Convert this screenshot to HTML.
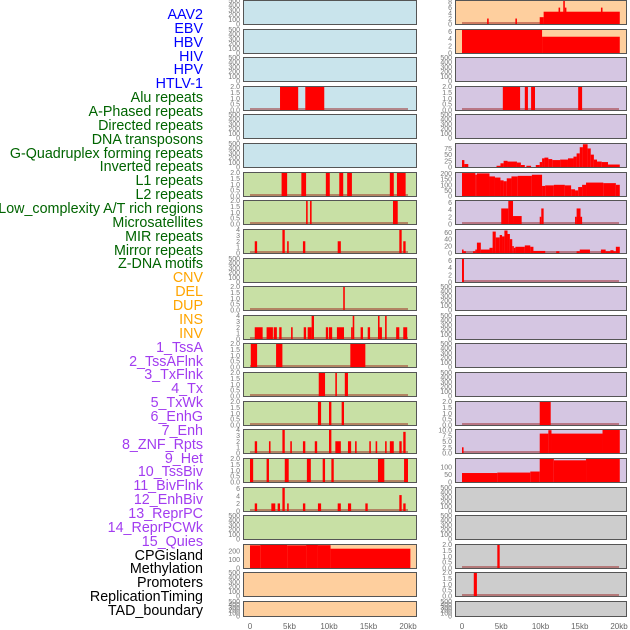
<!DOCTYPE html>
<html><head><meta charset="utf-8">
<style>
html,body{margin:0;padding:0;background:#fff;}
#root{position:relative;width:630px;height:630px;overflow:hidden;font-family:"Liberation Sans",sans-serif;}
.lbl{position:absolute;right:427px;font-size:14.3px;line-height:14px;white-space:nowrap;}
svg{position:absolute;left:0;top:0;}
</style></head>
<body>
<div id="root">
<svg id="chart" width="630" height="630"></svg>
</div>
<script>
// ---- labels ----
const labelNames = ["AAV2","EBV","HBV","HIV","HPV","HTLV-1","Alu repeats","A-Phased repeats","Directed repeats","DNA transposons","G-Quadruplex forming repeats","Inverted repeats","L1 repeats","L2 repeats","Low_complexity A/T rich regions","Microsatellites","MIR repeats","Mirror repeats","Z-DNA motifs","CNV","DEL","DUP","INS","INV","1_TssA","2_TssAFlnk","3_TxFlnk","4_Tx","5_TxWk","6_EnhG","7_Enh","8_ZNF_Rpts","9_Het","10_TssBiv","11_BivFlnk","12_EnhBiv","13_ReprPC","14_ReprPCWk","15_Quies","CPGisland","Methylation","Promoters","ReplicationTiming","TAD_boundary"];
const labelGroups = [6,13,5,15,5];
const groupColors = ["#0000ff","#006400","#ffa500","#a23cf0","#000000"];

// ---- x axis ----
const xTicks = [0,5,10,15,20];
const xTickLabels = ["0","5kb","10kb","15kb","20kb"];

// ---- tick sets ----
const t500 = [0,100,200,300,400,500];
const t2 = [0,0.5,1,1.5,2];
const t4 = [0,1,2,3,4];
const t6 = [0,2,4,6];
const t8 = [0,2,4,6,8];

// ---- left column data: [startKb, endKb, value] ----
const L_alu = [[3.8,6.1,2],[7.0,9.4,2]];
const L_l1 = [[4.0,4.7,2],[6.5,7.1,2],[9.6,10.1,2],[11.3,11.8,2],[12.3,12.9,2],[17.7,18.2,2],[18.6,19.7,2]];
const L_lowc = [[7.1,7.3,2],[7.6,7.8,2],[18.1,18.7,2]];
const L_mir = [[0.6,0.9,2],[4.1,4.4,4],[4.7,4.9,2],[6.7,7.0,2],[11.1,11.5,2],[18.9,19.2,4],[19.4,19.7,2]];
const L_del = [[11.8,12.0,2]];
const L_ins = [[0.6,1.6,2],[2.1,2.9,2],[3.0,3.4,2],[3.7,4.0,2],[5.2,5.4,2],[6.8,7.1,2],[7.3,7.8,2],[7.8,8.1,4],[9.6,9.9,2],[10.0,10.4,2],[11.0,11.9,2],[12.8,13.0,2],[13.0,13.2,4],[14.0,14.3,2],[14.9,15.2,2],[16.2,16.4,4],[16.4,16.7,2],[17.1,17.3,4],[18.5,18.9,2],[19.4,19.9,2]];
const L_tssa = [[0.1,0.9,2],[3.3,4.1,2],[12.7,14.6,2]];
const L_txflnk = [[8.7,9.5,2],[10.8,11.0,2],[12.0,12.4,2]];
const L_txwk = [[8.6,9.0,2],[10.0,10.3,2],[11.6,11.9,2]];
const L_enh = [[0.6,0.9,2],[2.4,2.6,2],[4.1,4.4,4],[5.1,5.3,2],[6.7,7.0,2],[8.2,8.5,2],[10.0,10.3,4],[10.8,11.5,2],[12.4,12.8,2],[13.3,13.5,2],[15.1,15.3,2],[15.9,16.1,2],[17.1,17.3,2],[17.7,18.2,2],[18.9,19.2,2],[19.4,19.7,3.6]];
const L_het = [[0.0,0.4,2],[2.1,2.4,2],[4.4,4.9,2],[7.2,7.7,2],[9.2,9.5,2],[10.3,10.6,2],[16.2,17.0,2],[19.5,20.0,2]];
const L_enhbiv = [[0.6,0.9,2],[2.7,3.2,2],[3.5,3.8,2],[4.1,4.4,6.2],[4.7,4.9,2],[6.7,7.0,2],[8.6,9.0,2],[11.1,11.5,2],[12.4,12.8,2],[14.6,14.9,2],[18.9,19.2,4.2],[19.4,19.7,2]];
const L_cpg = [[0,1.3,270],[1.3,4.7,280],[4.7,7.1,270],[7.1,8.6,280],[8.6,10.2,272],[10.2,20.3,230]];

// ---- right column data ----
const R_aav2 = [[3.2,3.4,2],[6.8,7.0,2],[9.9,10.4,2.5],[10.4,20.1,4.5],[12.3,12.5,6],[12.9,13.1,8.5],[13.1,13.3,6],[17.7,17.9,6]];
const R_ebv = [[0,10.2,6.5],[10.2,20.1,4.5]];
const R_alu = [[5.2,7.4,2],[8.0,8.4,2],[8.8,9.3,2],[14.8,15.3,2]];
const R_gquad = [[0,0.3,28],[0.3,0.8,12],[4.4,4.9,5],[4.9,5.3,15],[5.3,5.8,25],[5.8,7.0,22],[7.0,7.5,18],[7.5,8.0,8],[8.2,8.8,5],[9.4,9.9,8],[9.9,10.2,20],[10.2,10.5,35],[10.5,11.0,38],[11.0,11.5,32],[11.5,12.5,28],[12.5,13.5,30],[13.5,14.2,35],[14.2,14.6,42],[14.6,15.0,55],[15.0,15.4,80],[15.4,16.0,92],[16.0,16.4,75],[16.4,16.8,50],[16.8,17.2,30],[17.2,17.8,22],[17.8,18.6,20],[18.6,20.1,10]];
const R_l1 = [[0,1.7,205],[1.7,1.9,190],[1.9,3.5,202],[3.5,4.2,175],[4.2,4.9,165],[4.9,5.3,140],[5.3,5.7,132],[5.7,6.3,158],[6.3,7.1,175],[7.1,8.9,180],[8.9,10.2,190],[10.2,10.6,90],[10.6,11.7,95],[11.7,13.1,100],[13.1,13.9,95],[13.9,14.4,60],[14.4,14.8,50],[14.8,15.3,80],[15.3,15.8,100],[15.8,18.0,120],[18.0,19.6,115],[19.6,20.1,100]];
const R_lowc = [[5.0,5.9,4.3],[5.9,6.5,6.5],[6.5,7.6,2.2],[9.9,10.1,2],[10.1,10.4,4.3],[14.4,14.6,2],[14.6,15.1,4.3],[15.1,15.3,2]];
const R_mir = [[0,0.2,10],[0.2,0.5,5],[1.4,1.7,5],[1.7,1.9,10],[1.9,2.4,30],[2.4,3.5,10],[3.5,3.9,15],[3.9,4.3,62],[4.3,4.8,45],[4.8,5.1,52],[5.1,5.4,48],[5.4,5.8,65],[5.8,6.1,55],[6.1,6.4,40],[6.4,6.6,20],[6.6,6.8,15],[6.8,8.0,18],[8.0,8.7,22],[8.7,9.1,18],[9.1,10.6,6],[12.0,12.4,5],[14.6,15.0,5],[15.0,16.3,10],[17.7,18.3,10],[18.3,18.9,5],[18.9,19.3,8],[19.3,19.6,5],[19.6,20.1,18]];
const R_zdna = [[0,0.25,6.5]];
const R_txwk = [[9.9,11.3,2]];
const R_enh = [[0,0.2,2.5],[9.9,11.0,8.5],[11.0,11.4,10],[11.4,17.9,8.5],[17.9,20.1,10.3]];
const R_het = [[0,4.5,60],[4.5,8.7,63],[8.7,9.9,70],[9.9,11.7,157],[11.7,15.8,145],[15.8,20.1,155]];
const R_cpg = [[4.5,4.8,2]];
const R_meth = [[1.5,1.9,2]];

// ---- panel layout ----
const BLUE="#c9e4ec", GREEN="#c8e0a5", ORANGE="#fecf9e", PURPLE="#d5c6e2", GREY="#cdcdcd";
const panels = [
 {c:0,r:0,bg:BLUE,ymax:500,ticks:t500,d:null,n:"aav2-ebv"},
 {c:0,r:1,bg:BLUE,ymax:500,ticks:t500,d:null,n:"hbv-hiv"},
 {c:0,r:2,bg:BLUE,ymax:500,ticks:t500,d:null,n:"hpv-htlv1"},
 {c:0,r:3,bg:BLUE,ymax:2,ticks:t2,d:L_alu,n:"alu"},
 {c:0,r:4,bg:BLUE,ymax:500,ticks:t500,d:null,n:"directed"},
 {c:0,r:5,bg:BLUE,ymax:500,ticks:t500,d:null,n:"gquad"},
 {c:0,r:6,bg:GREEN,ymax:2,ticks:t2,d:L_l1,n:"l1"},
 {c:0,r:7,bg:GREEN,ymax:2,ticks:t2,d:L_lowc,n:"low-complexity"},
 {c:0,r:8,bg:GREEN,ymax:4,ticks:t4,d:L_mir,n:"mir"},
 {c:0,r:9,bg:GREEN,ymax:500,ticks:t500,d:null,n:"zdna"},
 {c:0,r:10,bg:GREEN,ymax:2,ticks:t2,d:L_del,n:"del"},
 {c:0,r:11,bg:GREEN,ymax:4,ticks:t4,d:L_ins,n:"ins"},
 {c:0,r:12,bg:GREEN,ymax:2,ticks:t2,d:L_tssa,n:"tssa"},
 {c:0,r:13,bg:GREEN,ymax:2,ticks:t2,d:L_txflnk,n:"txflnk"},
 {c:0,r:14,bg:GREEN,ymax:2,ticks:t2,d:L_txwk,n:"txwk"},
 {c:0,r:15,bg:GREEN,ymax:4,ticks:t4,d:L_enh,n:"enh"},
 {c:0,r:16,bg:GREEN,ymax:2,ticks:t2,d:L_het,n:"het"},
 {c:0,r:17,bg:GREEN,ymax:6.2,ticks:t6,d:L_enhbiv,n:"enhbiv"},
 {c:0,r:18,bg:GREEN,ymax:500,ticks:t500,d:null,n:"reprpc"},
 {c:0,r:19,bg:ORANGE,ymax:280,ticks:[0,100,200],d:L_cpg,n:"cpg",nobase:true},
 {c:0,r:20,bg:ORANGE,ymax:500,ticks:t500,d:null,n:"promoters"},
 {c:0,r:21,bg:ORANGE,ymax:500,ticks:t500,d:null,n:"tad"},
 {c:1,r:0,bg:ORANGE,ymax:8.6,ticks:t8,d:R_aav2,n:"aav2-ebv"},
 {c:1,r:1,bg:ORANGE,ymax:6.5,ticks:t6,d:R_ebv,n:"hbv-hiv",nobase:true},
 {c:1,r:2,bg:PURPLE,ymax:500,ticks:t500,d:null,n:"hpv-htlv1"},
 {c:1,r:3,bg:PURPLE,ymax:2,ticks:t2,d:R_alu,n:"alu"},
 {c:1,r:4,bg:PURPLE,ymax:500,ticks:t500,d:null,n:"directed"},
 {c:1,r:5,bg:PURPLE,ymax:95,ticks:[0,25,50,75],d:R_gquad,n:"gquad",nobase:true},
 {c:1,r:6,bg:PURPLE,ymax:210,ticks:[0,50,100,150,200],d:R_l1,n:"l1",nobase:true},
 {c:1,r:7,bg:PURPLE,ymax:6.5,ticks:t6,d:R_lowc,n:"low-complexity"},
 {c:1,r:8,bg:PURPLE,ymax:68,ticks:[0,20,40,60],d:R_mir,n:"mir"},
 {c:1,r:9,bg:PURPLE,ymax:6.5,ticks:t6,d:R_zdna,n:"zdna"},
 {c:1,r:10,bg:PURPLE,ymax:500,ticks:t500,d:null,n:"del"},
 {c:1,r:11,bg:PURPLE,ymax:500,ticks:t500,d:null,n:"ins"},
 {c:1,r:12,bg:PURPLE,ymax:500,ticks:t500,d:null,n:"tssa"},
 {c:1,r:13,bg:PURPLE,ymax:500,ticks:t500,d:null,n:"txflnk"},
 {c:1,r:14,bg:PURPLE,ymax:2,ticks:t2,d:R_txwk,n:"txwk"},
 {c:1,r:15,bg:PURPLE,ymax:10.3,ticks:[0,2.5,5,7.5,10],d:R_enh,n:"enh"},
 {c:1,r:16,bg:PURPLE,ymax:157,ticks:[0,50,100],d:R_het,n:"het",nobase:true},
 {c:1,r:17,bg:GREY,ymax:500,ticks:t500,d:null,n:"enhbiv"},
 {c:1,r:18,bg:GREY,ymax:500,ticks:t500,d:null,n:"reprpc"},
 {c:1,r:19,bg:GREY,ymax:2,ticks:t2,d:R_cpg,n:"cpg"},
 {c:1,r:20,bg:GREY,ymax:2,ticks:t2,d:R_meth,n:"promoters"},
 {c:1,r:21,bg:GREY,ymax:500,ticks:t500,d:null,n:"tad"}
];

const NS="http://www.w3.org/2000/svg";
const svg=document.getElementById('chart');
const root=document.getElementById('root');
const colX=[243,455], colW=[173,171], x0=[250,462], kbPx=[7.9,7.85];
function rowTop(r){return Math.round(r*28.62);}
function rowH(r){return r===21?16:25;}
function xs(c,kb){return x0[c]+kb*kbPx[c];}
function ys(p,v){const t=rowTop(p.r),h=rowH(p.r);return t+h-1-(v/p.ymax)*(h-1.5);}
function mk(tag,attrs){const e=document.createElementNS(NS,tag);for(const k in attrs)e.setAttribute(k,attrs[k]);svg.appendChild(e);return e;}
function fmt(p,v){
  if(p.ymax<=2) return v.toFixed(1);
  if(p.ticks===t500||p.ymax>20) return String(v);
  if(p.ymax===10.3) return v.toFixed(1);
  return String(v);
}

let idx=0;
labelGroups.forEach((cnt,g)=>{
  for(let i=0;i<cnt;i++){
    const d=document.createElement('div');
    d.className='lbl';
    
    
    d.style.top=(8+13.86*idx)+'px';
    d.style.color=groupColors[g];
    d.textContent=labelNames[idx];
    root.appendChild(d);
    idx++;
  }
});

panels.forEach(p=>{
  const t=rowTop(p.r),h=rowH(p.r),c=p.c;
  const bg=mk('rect',{x:colX[c]+0.5,y:t+0.5,width:colW[c],height:h-1,fill:p.bg,stroke:'none'});
  
  
  if(p.d){
    if(!p.nobase){
      const bl=mk('line',{x1:xs(c,0),x2:xs(c,20),y1:t+h-2,y2:t+h-2,stroke:'rgba(150,20,20,0.45)','stroke-width':2});
      
      
    }
    p.d.forEach(s=>{
      const x1=xs(c,s[0]),x2=xs(c,s[1]),y=ys(p,s[2]);
      const b=mk('rect',{x:x1,y:y,width:Math.max(1.5,x2-x1),height:t+h-y,fill:'#ff0000'});
      
      
    });
  }
  const fr=mk('rect',{x:colX[c]+0.5,y:t+0.5,width:colW[c],height:h-1,fill:'none',stroke:'#555',"stroke-width":1});
  
  
  p.ticks.forEach(v=>{
    const tx=mk('text',{x:colX[c]-3,y:ys(p,v)+2.5,'font-size':7,fill:'#777','text-anchor':'end','font-family':'Liberation Sans, sans-serif'});
    tx.textContent=fmt(p,v);
    
    
  });
});

[0,1].forEach(c=>{
  xTicks.forEach((k,i)=>{
    const tx=mk('text',{x:xs(c,k),y:629,'font-size':8,fill:'#666','text-anchor':'middle','font-family':'Liberation Sans, sans-serif'});
    tx.textContent=xTickLabels[i];
    
    
  });
});
</script>
</body></html>
